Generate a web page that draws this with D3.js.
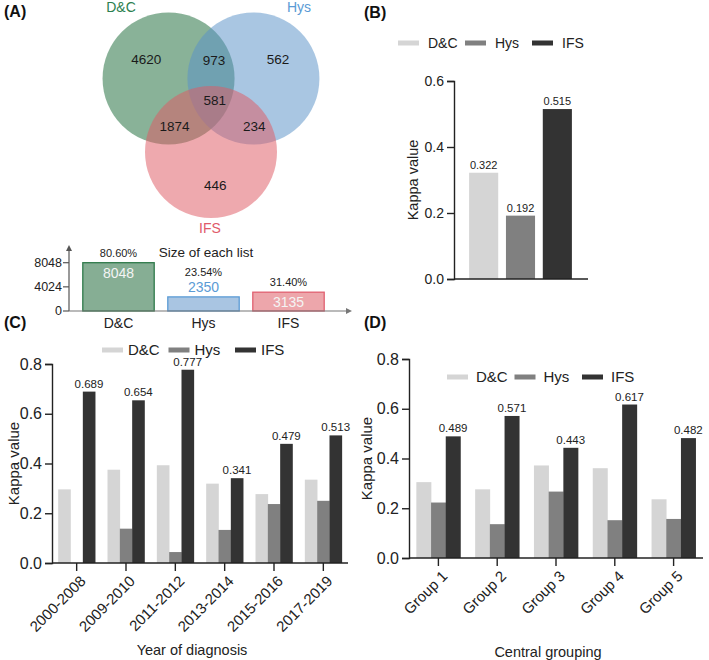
<!DOCTYPE html>
<html><head><meta charset="utf-8">
<script src="https://cdn.jsdelivr.net/npm/d3@7"></script>
<style>
body{margin:0;background:#fff;}
svg{display:block;font-family:"Liberation Sans",Arial,sans-serif;}
</style></head>
<body><svg id="chart" width="709" height="660"></svg>
<script>
// ---------- DATA ----------
const vennSets = ["D&C", "Hys", "IFS"];
const vennRegions = ["4620", "973", "562", "581", "1874", "234", "446"];
const sizeCategories = ["D&C", "Hys", "IFS"];
const sizeValues = [8048, 2350, 3135];
const sizePercents = ["80.60%", "23.54%", "31.40%"];
const sizeTicks = [0, 4024, 8048];

const series = ["D&C", "Hys", "IFS"];
const overallKappa = [0.322, 0.192, 0.515];
const overallTicks = [0, 0.2, 0.4, 0.6];

const yearCategories = ["2000-2008", "2009-2010", "2011-2012", "2013-2014", "2015-2016", "2017-2019"];
const yearDC  = [0.296, 0.375, 0.393, 0.319, 0.277, 0.335];
const yearHys = [0.000, 0.138, 0.044, 0.133, 0.237, 0.250];
const yearIFS = [0.689, 0.654, 0.777, 0.341, 0.479, 0.513];

const groupCategories = ["Group 1", "Group 2", "Group 3", "Group 4", "Group 5"];
const groupDC  = [0.305, 0.276, 0.372, 0.361, 0.236];
const groupHys = [0.223, 0.136, 0.267, 0.152, 0.157];
const groupIFS = [0.489, 0.571, 0.443, 0.617, 0.482];
const kappaTicks = [0, 0.2, 0.4, 0.6, 0.8];

// ---------- STYLE ----------
const seriesColors = ["#d5d5d5", "#808080", "#333333"];
const vennFill = ["#1d6b3a", "#5a92c8", "#de5a63"];
const vennText = ["#2c8050", "#5b9bd5", "#e05a6a"];
const sizeFill = ["#86ae94", "#a9c5e2", "#eda6ab"];
const sizeStroke = ["#2e7a4a", "#5b9bd5", "#e06070"];
const axisColor = "#222";

const svg = d3.select("#chart");

function panelLabel(txt, x, y) {
  svg.append("text").attr("x", x).attr("y", y).attr("font-size", 16)
    .attr("font-weight", "bold").attr("fill", "#111").text(txt);
}
panelLabel("(A)", 4, 17);
panelLabel("(B)", 364, 18);
panelLabel("(C)", 4, 328);
panelLabel("(D)", 364, 328);

// ---------- VENN ----------
(function () {
  const g = svg.append("g");
  const cx = 211, cy = 103, d = 49, r = 66;
  const angles = [-150, -30, 90].map(a => a * Math.PI / 180);
  const centers = angles.map(a => [cx + d * Math.cos(a), cy + d * Math.sin(a)]);
  g.selectAll("circle").data(vennSets).join("circle")
    .attr("cx", (s, i) => centers[i][0]).attr("cy", (s, i) => centers[i][1])
    .attr("r", r).attr("fill", (s, i) => vennFill[i]).attr("fill-opacity", 0.52);
  const labelPos = [[121, 12], [299, 12], [210, 233]];
  g.selectAll("text.setlab").data(vennSets).join("text").attr("class", "setlab")
    .attr("x", (s, i) => labelPos[i][0]).attr("y", (s, i) => labelPos[i][1])
    .attr("text-anchor", "middle").attr("font-size", 14)
    .attr("fill", (s, i) => vennText[i]).text(s => s);
  const regionGeom = [[-146, 78], [-86, 43], [-33, 80], [-40, 5], [148, 43], [28, 49], [87, 82]];
  g.selectAll("text.reg").data(vennRegions).join("text").attr("class", "reg")
    .attr("x", (s, i) => cx + regionGeom[i][1] * Math.cos(regionGeom[i][0] * Math.PI / 180))
    .attr("y", (s, i) => cy + regionGeom[i][1] * Math.sin(regionGeom[i][0] * Math.PI / 180))
    .attr("dy", "0.35em").attr("text-anchor", "middle").attr("font-size", 13.5)
    .attr("fill", "#1a1a1a").text(s => s);
})();

// ---------- SIZE OF EACH LIST ----------
(function () {
  const g = svg.append("g");
  const y = d3.scaleLinear().domain([0, 8048]).range([311, 262.7]);
  const x = d3.scaleBand().domain(sizeCategories).range([76, 331]).paddingInner(0.16).paddingOuter(0.08);
  const ax = 69;
  g.selectAll("rect").data(sizeValues).join("rect")
    .attr("x", (v, i) => x(sizeCategories[i])).attr("width", x.bandwidth())
    .attr("y", v => y(v)).attr("height", v => y(0) - y(v))
    .attr("fill", (v, i) => sizeFill[i]).attr("stroke", (v, i) => sizeStroke[i]).attr("stroke-width", 1.3);
  g.append("line").attr("x1", ax).attr("x2", ax).attr("y1", y(0)).attr("y2", 249)
    .attr("stroke", "#555").attr("stroke-width", 1.2);
  g.append("path").attr("d", `M${ax - 3},${251} L${ax},${245} L${ax + 3},${251} Z`).attr("fill", "#555");
  g.append("line").attr("x1", ax).attr("x2", 348).attr("y1", y(0)).attr("y2", y(0))
    .attr("stroke", "#777").attr("stroke-width", 1.2);
  g.append("path").attr("d", `M${346},${y(0) - 3} L${352},${y(0)} L${346},${y(0) + 3} Z`).attr("fill", "#777");
  const tk = g.selectAll("g.tk").data(sizeTicks).join("g").attr("class", "tk")
    .attr("transform", v => `translate(0,${y(v)})`);
  tk.append("line").attr("x1", ax - 6).attr("x2", ax).attr("stroke", "#555").attr("stroke-width", 1.2);
  tk.append("text").attr("x", ax - 7).attr("dy", "0.35em").attr("text-anchor", "end")
    .attr("font-size", 12.5).attr("fill", "#222").text(v => v);
  g.selectAll("text.cat").data(sizeCategories).join("text").attr("class", "cat")
    .attr("x", c => x(c) + x.bandwidth() / 2).attr("y", 328).attr("text-anchor", "middle")
    .attr("font-size", 14).attr("fill", "#222").text(c => c);
  g.selectAll("text.val").data(sizeValues).join("text").attr("class", "val")
    .attr("x", (v, i) => x(sizeCategories[i]) + x.bandwidth() / 2)
    .attr("y", (v, i) => v < 3000 ? y(v) - 5 : y(v) + 15)
    .attr("text-anchor", "middle").attr("font-size", 14)
    .attr("fill", (v, i) => (v < 3000 ? sizeStroke[i] : "#f4f4f4")).text(v => v);
  g.selectAll("text.pct").data(sizePercents).join("text").attr("class", "pct")
    .attr("x", (p, i) => x(sizeCategories[i]) + x.bandwidth() / 2)
    .attr("y", (p, i) => sizeValues[i] < 3000 ? y(sizeValues[i]) - 21 : y(sizeValues[i]) - 6)
    .attr("text-anchor", "middle").attr("font-size", 11).attr("fill", "#222").text(p => p);
  g.append("text").attr("x", 206).attr("y", 257).attr("text-anchor", "middle")
    .attr("font-size", 13.5).attr("fill", "#222").text("Size of each list");
})();

// ---------- helpers ----------
function legend(x0, y0, step, textOff, fs) {
  const g = svg.append("g");
  const it = g.selectAll("g").data(series).join("g")
    .attr("transform", (s, i) => `translate(${x0 + i * step},${y0})`);
  it.append("rect").attr("x", 0).attr("y", -2.5).attr("width", 21).attr("height", 5)
    .attr("fill", (s, i) => seriesColors[i]);
  it.append("text").attr("x", textOff).attr("dy", "0.35em").attr("font-size", fs)
    .attr("fill", "#222").text(s => s);
}
function yAxis(y, xPos, ticks, fs) {
  const g = svg.append("g").attr("transform", `translate(${xPos},0)`)
    .call(d3.axisLeft(y).tickValues(ticks).tickFormat(d3.format(".1f")).tickSize(7).tickPadding(3));
  g.select(".domain").attr("stroke", axisColor).attr("stroke-width", 1.4);
  g.selectAll(".tick line").attr("stroke", axisColor).attr("stroke-width", 1.4);
  g.selectAll("text").attr("font-size", fs).attr("fill", "#222").attr("font-family", "Liberation Sans, Arial, sans-serif");
  return g;
}

// ---------- PANEL B ----------
(function () {
  const y = d3.scaleLinear().domain([0, 0.6]).range([279, 81]);
  const x = d3.scaleBand().domain(series).range([454, 587]).paddingInner(0.21).paddingOuter(0.41);
  svg.append("g").selectAll("rect").data(overallKappa).join("rect")
    .attr("x", (v, i) => x(series[i])).attr("width", x.bandwidth())
    .attr("y", v => y(v)).attr("height", v => y(0) - y(v))
    .attr("fill", (v, i) => seriesColors[i]);
  svg.append("g").selectAll("text").data(overallKappa).join("text")
    .attr("x", (v, i) => x(series[i]) + x.bandwidth() / 2).attr("y", v => y(v) - 4)
    .attr("text-anchor", "middle").attr("font-size", 11).attr("fill", "#222").text(v => v.toFixed(3));
  yAxis(y, 454, overallTicks, 14);
  svg.append("line").attr("x1", 454).attr("x2", 588).attr("y1", y(0)).attr("y2", y(0))
    .attr("stroke", axisColor).attr("stroke-width", 1.4);
  svg.append("text").attr("transform", `translate(418,180) rotate(-90)`).attr("text-anchor", "middle")
    .attr("font-size", 14.5).attr("fill", "#222").text("Kappa value");
  legend(398, 43, 67, 30, 14);
})();

// ---------- grouped panels ----------
function grouped(cats, dc, hys, ifs, xr, yr, fs, xTitle, xTitlePos, yTitleX) {
  const rows = cats.map((c, i) => ({ c, v: [dc[i], hys[i], ifs[i]] }));
  const y = d3.scaleLinear().domain([0, 0.8]).range(yr);
  const x = d3.scaleBand().domain(cats).range(xr).paddingInner(0.25).paddingOuter(0.125);
  const xs = d3.scaleBand().domain(series).range([0, x.bandwidth()]);
  const g = svg.append("g");
  const grp = g.selectAll("g").data(rows).join("g").attr("transform", r => `translate(${x(r.c)},0)`);
  grp.selectAll("rect").data(r => r.v).join("rect")
    .attr("x", (v, i) => xs(series[i])).attr("width", xs.bandwidth() + 0.3)
    .attr("y", v => y(v)).attr("height", v => y(0) - y(v))
    .attr("fill", (v, i) => seriesColors[i]);
  grp.append("text").attr("x", r => xs("IFS") + xs.bandwidth() / 2).attr("y", r => y(r.v[2]) - 4)
    .attr("text-anchor", "middle").attr("font-size", 11.5).attr("fill", "#222").text(r => r.v[2].toFixed(3));
  yAxis(y, xr[0], kappaTicks, fs);
  const xa = svg.append("g").attr("transform", `translate(0,${yr[0]})`)
    .call(d3.axisBottom(x).tickSize(8).tickFormat(""));
  xa.select(".domain").attr("stroke", axisColor).attr("stroke-width", 1.4).attr("d", `M${xr[0]},0H${xr[1]}`);
  xa.selectAll(".tick line").attr("stroke", axisColor).attr("stroke-width", 1.4);
  svg.append("g").selectAll("text").data(cats).join("text")
    .attr("transform", c => `translate(${x(c) + x.bandwidth() / 2 + 10},${yr[0] + 19}) rotate(-45)`)
    .attr("text-anchor", "end").attr("font-size", 15).attr("fill", "#222").text(c => c);
  svg.append("text").attr("x", xTitlePos[0]).attr("y", xTitlePos[1]).attr("text-anchor", "middle")
    .attr("font-size", 14.5).attr("fill", "#222").text(xTitle);
  svg.append("text").attr("transform", `translate(${yTitleX},${(yr[0] + yr[1]) / 2}) rotate(-90)`)
    .attr("text-anchor", "middle").attr("font-size", 15).attr("fill", "#222").text("Kappa value");
}

grouped(yearCategories, yearDC, yearHys, yearIFS, [52, 348], [563, 364], 16,
  "Year of diagnosis", [192, 655], 19);
legend(102, 350, 66.5, 26, 15);

grouped(groupCategories, groupDC, groupHys, groupIFS, [409, 703], [558, 359], 16,
  "Central grouping", [548, 657], 372);
legend(447, 377, 67.5, 29, 15);
</script>
</body></html>
